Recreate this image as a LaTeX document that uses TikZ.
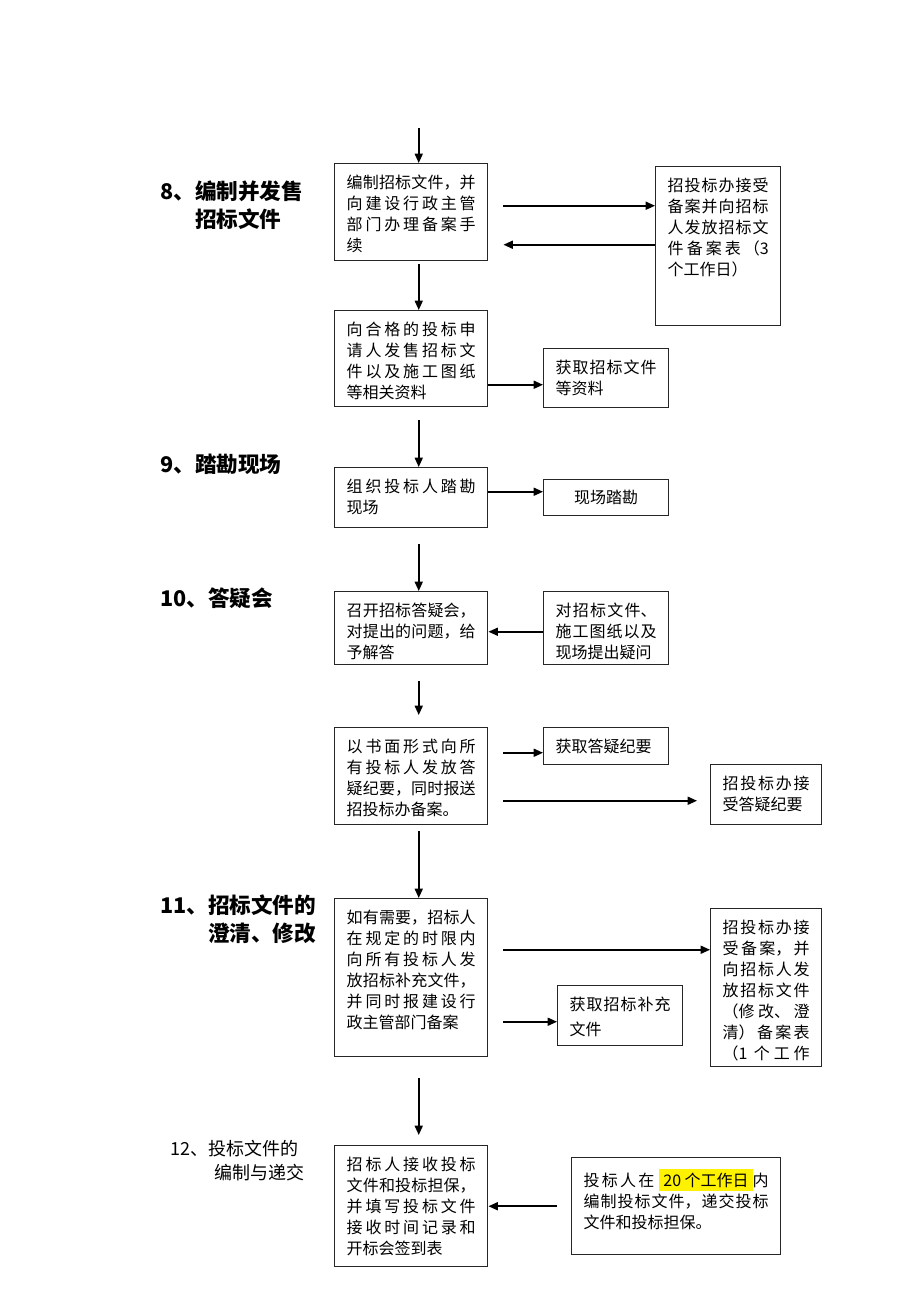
\documentclass[tikz,border=0pt]{standalone}
\usepackage{fontspec}
\setmainfont{Noto Sans CJK SC}
\usetikzlibrary{arrows.meta}
\XeTeXlinebreaklocale "zh"
\XeTeXlinebreakskip=0pt plus 2pt
\newdimen\upx \upx=0.75pt
% box text: width and height of the box in px, text set from the top
\newcommand\boxtxt[3]{\parbox[c][\dimexpr#2\upx-22\upx\relax][t]{\dimexpr#1\upx-24\upx\relax}{#3}}

\begin{document}
\begin{tikzpicture}[x=0.75pt,y=-0.75pt,
    box/.style={draw=black!85, line width=1.1pt, anchor=north west, inner xsep=12\upx, inner ysep=11\upx,
                font=\fontsize{12}{15.75}\selectfont},
    lbl/.style={anchor=north west, inner sep=0pt, align=left, font=\fontsize{16.2}{21}\selectfont\bfseries},
    arr/.style={line width=1.2pt, -{Triangle[length=7pt,width=6pt]}}]
    \useasboundingbox (0,0) rectangle (920,1302);

    % step labels
    \node[lbl] (l8) at (160,181) {8、编制并发售\\\phantom{8、}招标文件};
    \node[lbl] (l9) at (160,454) {9、踏勘现场};
    \node[lbl] (l10) at (160,588) {10、答疑会};
    \node[lbl] (l11) at (160,894) {11、招标文件的\\\phantom{11、}澄清、修改};
    \node[lbl, font=\fontsize{13.5}{18}\selectfont] (l12) at (170,1140) {12、投标文件的\\\hspace*{33pt}编制与递交};

    % main column
    \node[box] (bianzhi) at (334,163) {\boxtxt{153}{97}{编制招标文件，并\break 向建设行政主管\break 部门办理备案手\break 续}};
    \node[box] (fashou) at (334,310) {\boxtxt{153}{96}{向合格的投标申\break 请人发售招标文\break 件以及施工图纸\break 等相关资料}};
    \node[box] (takan) at (334,467) {\boxtxt{153}{60}{组织投标人踏勘\break 现场}};
    \node[box] (dayi) at (334,591) {\boxtxt{153}{73}{召开招标答疑会，\break 对提出的问题，给\break 予解答}};
    \node[box] (jiyao) at (334,727) {\boxtxt{153}{97}{以书面形式向所\break 有投标人发放答\break 疑纪要，同时报送\break 招投标办备案。}};
    \node[box] (buchong) at (334,898) {\boxtxt{153}{158}{如有需要，招标人\break 在规定的时限内\break 向所有投标人发\break 放招标补充文件，\break 并同时报建设行\break 政主管部门备案}};
    \node[box] (jieshou) at (334,1145) {\boxtxt{153}{121}{招标人接收投标\break 文件和投标担保，\break 并填写投标文件\break 接收时间记录和\break 开标会签到表}};

    % side boxes
    \node[box] (beian) at (655,166) {\boxtxt{125}{159}{招投标办接受\break 备案并向招标\break 人发放招标文\break 件备案表（3\break 个工作日）}};
    \node[box] (huoqu) at (543,348) {\boxtxt{125}{59}{获取招标文件\break 等资料}};
    \node[box, inner sep=0pt, minimum width=125\upx, minimum height=36\upx] (xianchang) at (543,479) {现场踏勘};
    \node[box] (yiwen) at (543,591) {\boxtxt{125}{73}{对招标文件、\break 施工图纸以及\break 现场提出疑问}};
    \node[box] (huoqujiyao) at (543,727) {\boxtxt{125}{37}{获取答疑纪要}};
    \node[box] (jieshoujiyao) at (710,764) {\boxtxt{111}{60}{招投标办接\break 受答疑纪要}};
    \node[box] (xiugai) at (710,908) {\boxtxt{111}{158}{招投标办接\break 受备案，并\break 向招标人发\break 放招标文件\break （修改、澄\break 清）备案表\break （1 个工作\break}};
    \node[box] (huoqubuchong) at (557,985) {\boxtxt{125}{60}{\fontsize{12}{19}\selectfont 获取招标补充\break 文件}};
    \node[box] (toubiao) at (571,1157) {\boxtxt{209}{97}{投标人在 \colorbox{yellow}{20 个工作日}内\break 编制投标文件，递交投标\break 文件和投标担保。}};

    % down the main column
    \draw[arr] ([xshift=5.625pt,yshift=26.25pt]bianzhi.north) -- ([xshift=5.625pt]bianzhi.north);
    \draw[arr] ([xshift=5.625pt,yshift=-2.25pt]bianzhi.south) -- ([xshift=5.625pt]fashou.north);
    \draw[arr] ([xshift=5.625pt,yshift=-9.75pt]fashou.south) -- ([xshift=5.625pt]takan.north);
    \draw[arr] ([xshift=5.625pt,yshift=-12pt]takan.south) -- ([xshift=5.625pt]dayi.north);
    \draw[arr] ([xshift=5.625pt,yshift=-12pt]dayi.south) -- ([xshift=5.625pt,yshift=9pt]jiyao.north);
    \draw[arr] ([xshift=5.625pt,yshift=-4.5pt]jiyao.south) -- ([xshift=5.625pt]buchong.north);
    \draw[arr] ([xshift=5.625pt,yshift=-15.75pt]buchong.south) -- ([xshift=5.625pt,yshift=7.5pt]jieshou.north);

    % across to the side boxes
    \draw[arr] ([xshift=11.25pt,yshift=4.875pt]bianzhi.east) coordinate (s1) -- (s1 -| beian.west);
    \coordinate (s2) at ([xshift=11.25pt,yshift=-24.375pt]bianzhi.east);
    \draw[arr] (s2 -| beian.west) -- (s2);
    \draw[arr] ([yshift=-19.5pt]fashou.east) coordinate (s3) -- (s3 -| huoqu.west);
    \draw[arr] ([yshift=4.5pt]takan.east) coordinate (s4) -- (s4 -| xianchang.west);
    \draw[arr] ([yshift=-2.625pt]yiwen.west) coordinate (s5) -- (s5 -| dayi.east);
    \draw[arr] ([xshift=11.25pt,yshift=17.625pt]jiyao.east) coordinate (s6) -- (s6 -| huoqujiyao.west);
    \coordinate (s7) at ([xshift=11.25pt,yshift=-18.375pt]jiyao.east);
    \coordinate (e7) at (s7 -| jieshoujiyao.west);
    \draw[arr] (s7) -- ([xshift=-9.75pt]e7);
    \draw[arr] ([xshift=11.25pt,yshift=21pt]buchong.east) coordinate (s8) -- (s8 -| xiugai.west);
    \draw[arr] ([xshift=11.25pt,yshift=-33pt]buchong.east) coordinate (s9) -- (s9 -| huoqubuchong.west);
    \draw[arr] ([xshift=-10.5pt]toubiao.west) -- (jieshou.east);
\end{tikzpicture}
\end{document}
